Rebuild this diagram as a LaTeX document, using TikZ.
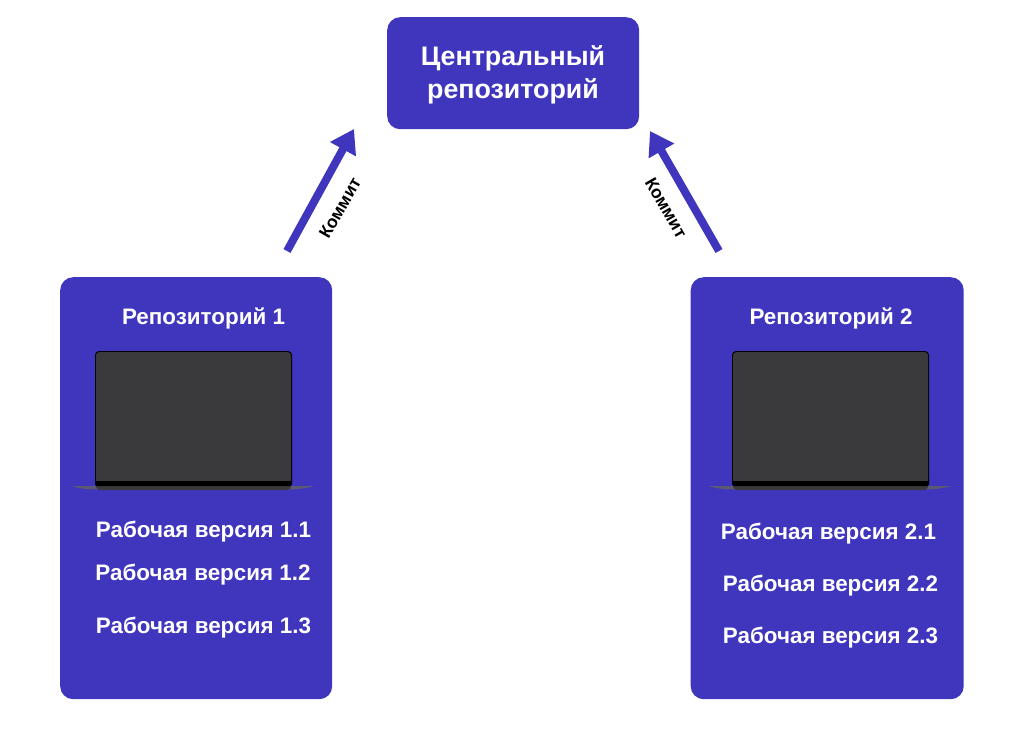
\documentclass[tikz,border=0pt]{standalone}
\usepackage{fontspec}
\setmainfont{Liberation Sans}
\usetikzlibrary{arrows.meta}
\definecolor{brandblue}{HTML}{4035BD}
\definecolor{screengray}{HTML}{3A3A3C}
\definecolor{basegray}{HTML}{5C5A70}
\tikzset{
  x=1pt,y=-1pt,
  panel/.style={fill=brandblue,draw=none,rounded corners=13pt,anchor=north west,inner sep=0pt},
  title/.style={text=white,font=\bfseries\fontsize{26.8}{32.5}\selectfont,align=center},
  heading/.style={text=white,font=\bfseries\fontsize{22.4}{26}\selectfont},
  version/.style={text=white,font=\bfseries\fontsize{22.4}{26}\selectfont},
  commit/.style={text=black,font=\bfseries\fontsize{17.5}{21}\selectfont},
  flow/.style={draw=brandblue,line width=8pt,-{Triangle[length=23pt,width=28pt]}},
}
\newcommand{\laptop}[1]{%
  \fill[basegray] (#1-122,486) -- (#1+121,486) .. controls (#1+110,489) and (#1+100,489.5) .. (#1+95,489.5) -- (#1-95,489.5) .. controls (#1-105,489.5) and (#1-112,489) .. (#1-122,486) -- cycle;
  \fill[black,rounded corners=4pt] (#1-98.5,351) rectangle (#1+98.5,486);
  \fill[screengray,rounded corners=3.5pt] (#1-97.5,352) -- (#1+97.5,352) -- (#1+97.5,490) -- (#1-97.5,490) -- cycle;
  \fill[black,rounded corners=2pt] (#1-98.5,478) rectangle (#1+98.5,486);
  \fill[screengray] (#1-97.5,477) rectangle (#1+97.5,480.5);
}
\begin{document}
\begin{tikzpicture}
\useasboundingbox[fill=white] (0,0) rectangle (1024,750);
\node[panel,minimum width=252pt,minimum height=112pt] (central) at (387,17) {};
\node[panel,minimum width=272pt,minimum height=422pt] (repoA) at (60,277) {};
\node[panel,minimum width=273pt,minimum height=422pt] (repoB) at (690.5,277) {};
\node[title] (centralText) at (513,75) {Центральный\\репозиторий};
\node[heading] (headA) at (203.5,318) {Репозиторий 1};
\node[heading] (headB) at (831,318) {Репозиторий 2};
\laptop{193.5}
\laptop{830.5}
\node[version] (a1) at (203.5,532) {Рабочая версия 1.1};
\node[version] (a2) at (203,575) {Рабочая версия 1.2};
\node[version] (a3) at (203.5,628) {Рабочая версия 1.3};
\node[version] (b1) at (828.5,534) {Рабочая версия 2.1};
\node[version] (b2) at (830.5,586) {Рабочая версия 2.2};
\node[version] (b3) at (830.5,638) {Рабочая версия 2.3};
\coordinate (startA) at (287,251);
\coordinate (tipA) at (354,129);
\coordinate (startB) at (719,251);
\coordinate (tipB) at (650,131);
\draw[flow] (startA) -- (tipA);
\draw[flow] (startB) -- (tipB);
\node[commit,rotate=60] (commitA) at (340,208) {Коммит};
\node[commit,rotate=-60] (commitB) at (666,208) {Коммит};
\end{tikzpicture}
\end{document}
